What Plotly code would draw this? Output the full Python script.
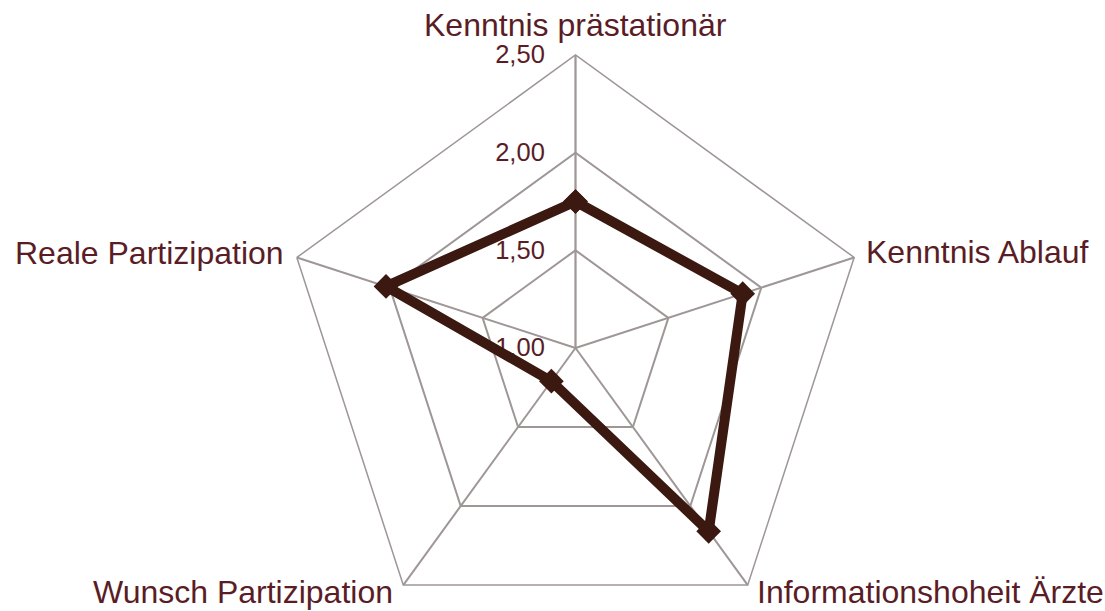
import plotly.graph_objects as go

# ---- data ----
categories = ["Kenntnis prästationär", "Kenntnis Ablauf", "Informationshoheit Ärzte",
              "Wunsch Partizipation", "Reale Partizipation"]
values = [1.75, 1.90, 2.16, 1.21, 2.02]
radial_ticks = [1.0, 1.5, 2.0, 2.5]

# ---- style ----
LINE = "#3b1810"
TEXT = "#5a1d26"
GRID = "#9f9696"
FONT = "Liberation Sans, Arial, sans-serif"

W, H = 1105, 641
CX, CY, R = 575.5, 348, 293

# label placement (page pixels: anchor x, vertical centre, horizontal anchor)
label_pos = [
    (575, 25, "center"),
    (864, 252, "left"),
    (755, 592, "left"),
    (395, 592, "right"),
    (286, 253, "right"),
]


def px(x):
    return x / W


def py(y):
    return (H - y) / H


fig = go.Figure()
fig.add_trace(go.Scatterpolar(
    r=values + values[:1],
    theta=categories + categories[:1],
    mode="lines+markers",
    line=dict(color=LINE, width=10),
    marker=dict(symbol="diamond", size=19, color=LINE),
    showlegend=False,
    cliponaxis=False,
    hoverinfo="skip",
))

for name, (x, y, anchor) in zip(categories, label_pos):
    fig.add_annotation(
        text=name, x=px(x), y=py(y), xref="paper", yref="paper",
        xanchor=anchor, yanchor="middle", showarrow=False,
        font=dict(size=32, color=TEXT, family=FONT),
    )

fig.update_layout(
    width=W, height=H,
    margin=dict(l=0, r=0, t=0, b=0, autoexpand=False),
    paper_bgcolor="white",
    separators=",.",
    font=dict(family=FONT, color=TEXT),
    polar=dict(
        domain=dict(x=[(CX - R) / W, (CX + R) / W], y=[0, (H - (CY - R)) / H]),
        bgcolor="white",
        gridshape="linear",
        radialaxis=dict(
            range=[1, 2.5], tickvals=radial_ticks, tickformat=".2f",
            angle=90, side="counterclockwise", tickangle=90,
            showline=True, linecolor=GRID, linewidth=1.5,
            gridcolor=GRID, gridwidth=1.5,
            ticks="outside", ticklen=21, tickcolor="rgba(0,0,0,0)",
            tickfont=dict(size=25.5, color=TEXT, family=FONT),
            layer="below traces",
        ),
        angularaxis=dict(
            rotation=90, direction="clockwise",
            showline=True, linecolor=GRID, linewidth=1.5,
            gridcolor=GRID, gridwidth=1.5,
            ticks="", showticklabels=False,
            layer="below traces",
        ),
    ),
)

post = ("var d=document.getElementById('{plot_id}');"
        "d.style.height='611px';d.style.overflow='hidden';"
        "document.body.style.margin='0';document.body.style.overflow='hidden';"
        "document.documentElement.style.overflow='hidden';")
fig.write_html("out.html", post_script=post, config={"displayModeBar": False})
